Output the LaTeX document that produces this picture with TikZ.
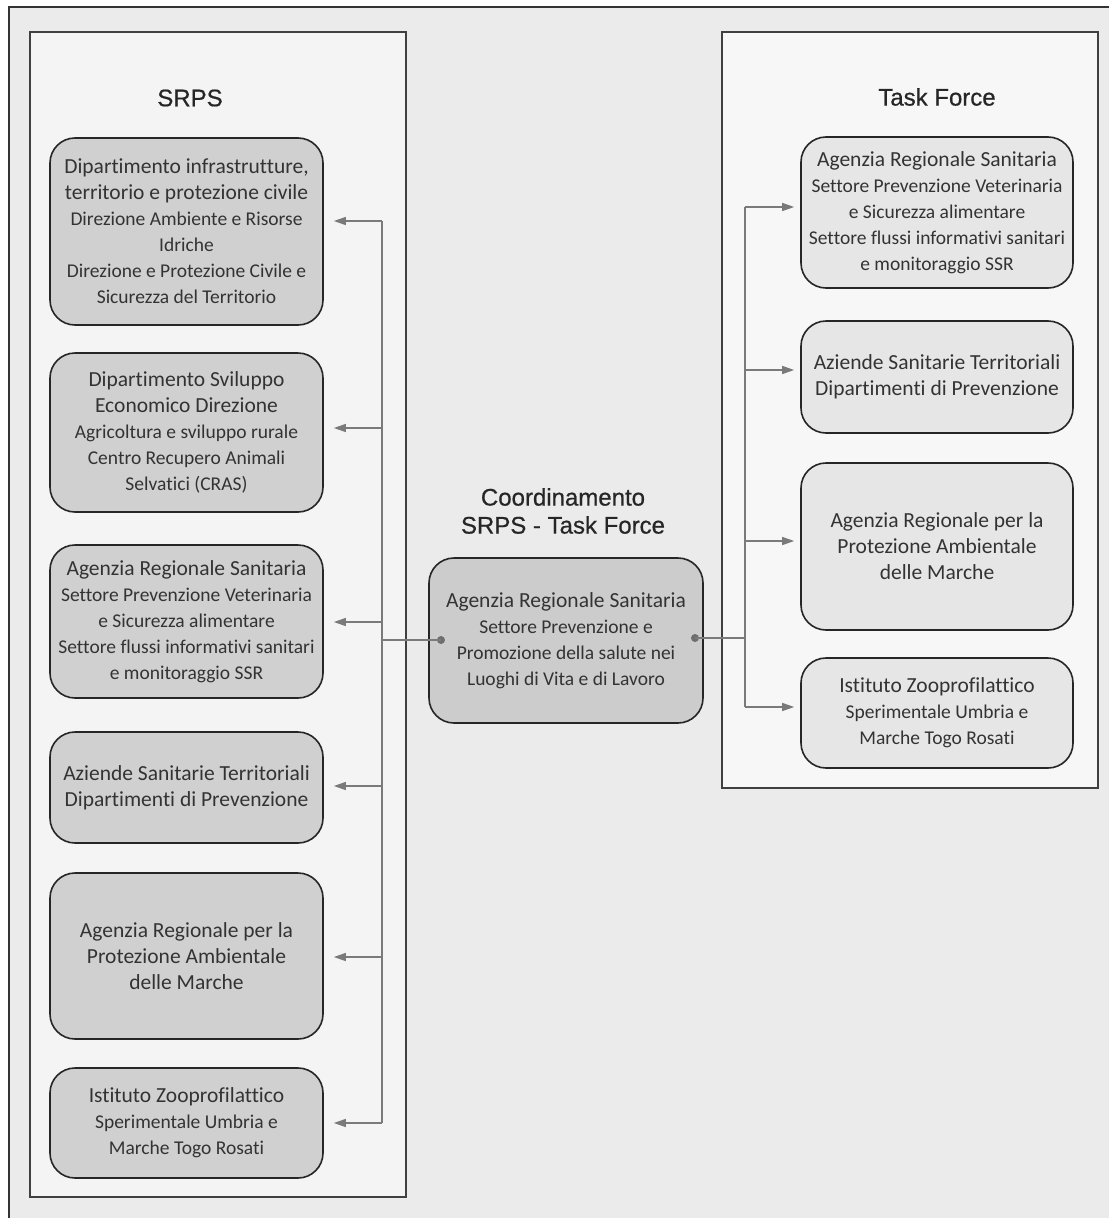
\documentclass[tikz,border=0pt]{standalone}
\usepackage{fontspec}
\setmainfont[Ligatures=CommonOff]{Carlito}
\newfontfamily\titlefont[FakeBold=0.6]{Liberation Sans}
\usetikzlibrary{arrows.meta}
\definecolor{outerbg}{HTML}{EBEBEB}
\definecolor{panelbg}{HTML}{F4F4F4}
\definecolor{panelbgr}{HTML}{F7F7F7}
\definecolor{leftfill}{HTML}{D0D0D0}
\definecolor{midfill}{HTML}{CCCCCC}
\definecolor{rightfill}{HTML}{E6E6E6}
\definecolor{boxline}{HTML}{262626}
\definecolor{conn}{HTML}{7A7A7A}
\definecolor{txt}{HTML}{333333}
\newcommand{\lgf}{\fontsize{21.5}{26}\selectfont}
\newcommand{\smf}{\fontsize{19.5}{24.5}\selectfont}
\tikzset{
  panel/.style={draw=black!75, line width=1.5pt},
  orgbox/.style={draw=boxline, line width=1.6pt, rounded corners=25pt, align=center,
    inner sep=0pt, text=txt, font=\lgf},
  lbox/.style={orgbox, fill=leftfill, minimum width=273pt},
  rbox/.style={orgbox, fill=rightfill, minimum width=272pt},
  title/.style={font=\titlefont\fontsize{24}{27}\selectfont, text=black!85, align=center, inner sep=0pt},
  arr/.style={draw=conn, line width=1.2pt, -{Triangle[length=12pt,width=8pt]}},
  trunk/.style={draw=conn, line width=1.2pt},
  dot/.style={circle, fill=conn!90!black, inner sep=0pt, minimum size=8pt}
}
\begin{document}
\begin{tikzpicture}[x=1pt,y=-1pt]
\useasboundingbox (0,0) rectangle (1109,1218);
\fill[white] (0,0) rectangle (1109,1218);
\fill[outerbg] (9,7) rectangle (1109,1218);
\draw[black!80, line width=1.5pt] (9,1218) -- (9,7) -- (1109,7);
% panels
\draw[panel, fill=panelbg] (30,32) rectangle (406,1197);
\draw[panel, fill=panelbgr] (722,32) rectangle (1098,788);
% titles
\node[title] (tL) at (190,98) {SRPS};
\node[title] (tR) at (937,97) {Task Force};
\node[title, font=\titlefont\fontsize{24}{28}\selectfont] (tC) at (563,511) {Coordinamento\\SRPS - Task Force};
% left boxes
\node[lbox, minimum height=187pt] (L1) at (186.5,231.5) {Dipartimento infrastrutture,\\territorio e protezione civile\\{\smf Direzione Ambiente e Risorse}\\{\smf Idriche}\\{\smf Direzione e Protezione Civile e}\\{\smf Sicurezza del Territorio}};
\node[lbox, minimum height=159pt] (L2) at (186.5,432.5) {Dipartimento Sviluppo\\Economico Direzione\\{\smf Agricoltura e sviluppo rurale}\\{\smf Centro Recupero Animali}\\{\smf Selvatici (CRAS)}};
\node[lbox, minimum height=153pt] (L3) at (186.5,621.5) {Agenzia Regionale Sanitaria\\{\smf Settore Prevenzione Veterinaria}\\{\smf e Sicurezza alimentare}\\{\smf Settore flussi informativi sanitari}\\{\smf e monitoraggio SSR}};
\node[lbox, minimum height=111pt] (L4) at (186.5,787.5) {Aziende Sanitarie Territoriali\\Dipartimenti di Prevenzione};
\node[lbox, minimum height=166pt] (L5) at (186.5,956) {Agenzia Regionale per la\\Protezione Ambientale\\delle Marche};
\node[lbox, minimum height=110pt] (L6) at (186.5,1123) {Istituto Zooprofilattico\\{\smf Sperimentale Umbria e}\\{\smf Marche Togo Rosati}};
% centre box
\node[orgbox, fill=midfill, minimum width=274pt, minimum height=165pt] (C) at (566,640.5) {Agenzia Regionale Sanitaria\\{\smf Settore Prevenzione e}\\{\smf Promozione della salute nei}\\{\smf Luoghi di Vita e di Lavoro}};
% right boxes
\node[rbox, minimum height=151pt] (R1) at (937,212.5) {Agenzia Regionale Sanitaria\\{\smf Settore Prevenzione Veterinaria}\\{\smf e Sicurezza alimentare}\\{\smf Settore flussi informativi sanitari}\\{\smf e monitoraggio SSR}};
\node[rbox, minimum height=112pt] (R2) at (937,377) {Aziende Sanitarie Territoriali\\Dipartimenti di Prevenzione};
\node[rbox, minimum height=167pt] (R3) at (937,546.5) {Agenzia Regionale per la\\Protezione Ambientale\\delle Marche};
\node[rbox, minimum height=110pt] (R4) at (937,713) {Istituto Zooprofilattico\\{\smf Sperimentale Umbria e}\\{\smf Marche Togo Rosati}};
% connector coordinates
\coordinate (bL1) at (382,221);
\coordinate (bL2) at (382,428);
\coordinate (bL3) at (382,622);
\coordinate (bL4) at (382,786);
\coordinate (bL5) at (382,957);
\coordinate (bL6) at (382,1123);
\coordinate (jL) at (382,640);
\coordinate (bR1) at (745,207);
\coordinate (bR2) at (745,370);
\coordinate (bR3) at (745,541);
\coordinate (bR4) at (745,707);
\coordinate (jR) at (745,638);
\node[dot] (dL) at (441,640) {};
\node[dot] (dR) at (695,638) {};
% trunks
\draw[trunk] (bL1) -- (bL6);
\draw[trunk] (bR1) -- (bR4);
\draw[trunk] (dL.center) -- (jL);
\draw[trunk] (dR.center) -- (jR);
% arrows
\foreach \i in {1,...,6} {\draw[arr, shorten >=10pt] (bL\i) -- (L\i.east |- bL\i);}
\foreach \i in {1,...,4} {\draw[arr, shorten >=6pt] (bR\i) -- (R\i.west |- bR\i);}
\end{tikzpicture}
\end{document}
